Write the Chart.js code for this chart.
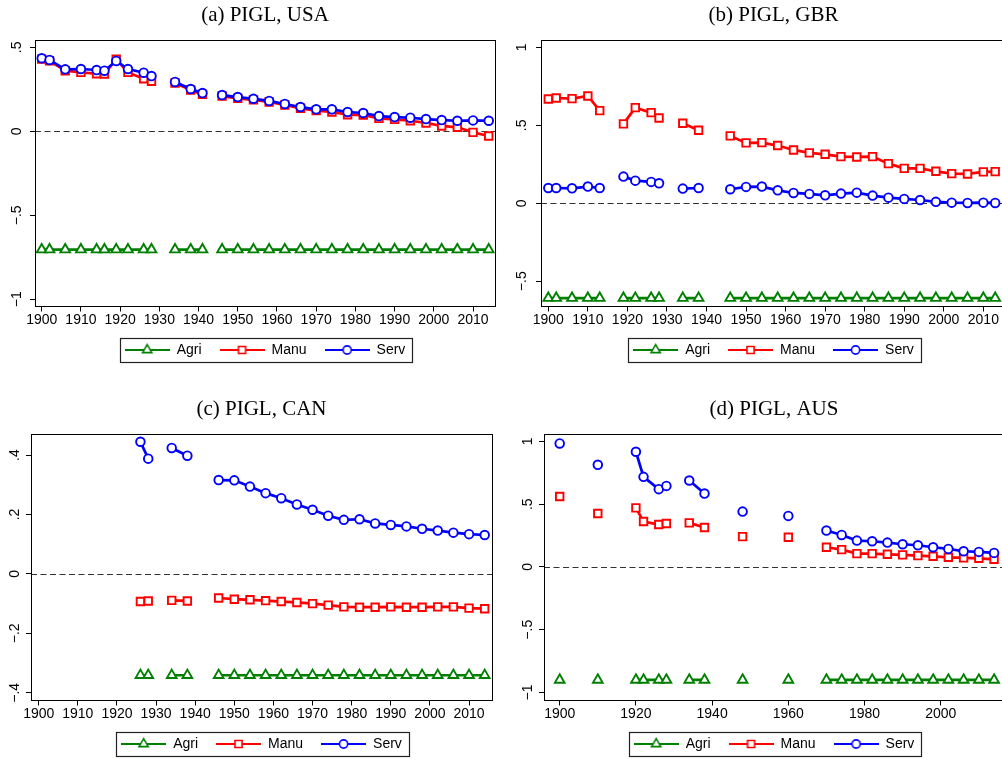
<!DOCTYPE html>
<html>
<head>
<meta charset="utf-8">
<script src="https://cdn.jsdelivr.net/npm/chart.js@4/dist/chart.umd.min.js"></script>
<style>
html, body { margin: 0; padding: 0; background: #fff; overflow: hidden; width: 1002px; height: 759px; }
canvas { position: absolute; }
</style>
</head>
<body>
<canvas id="usa" width="500" height="367" style="left:0;top:0"></canvas>
<canvas id="gbr" width="510" height="367" style="left:500px;top:0"></canvas>
<canvas id="can" width="500" height="367" style="left:0;top:394px"></canvas>
<canvas id="aus" width="506" height="367" style="left:500px;top:394px"></canvas>
<script>
// values (null = break in the line)
const yearsUSA = [1900, 1902, 1906, 1910, 1914, 1916, 1919, 1922, 1926, 1928, 1931, 1934, 1938, 1941, 1943,
  1946, 1950, 1954, 1958, 1962, 1966, 1970, 1974, 1978, 1982, 1986, 1990, 1994, 1998, 2002, 2006, 2010, 2014];
const agriUSA = [-0.704, -0.704, -0.704, -0.704, -0.704, -0.704, -0.704, -0.704, -0.704, -0.704, null, -0.704, -0.704, -0.704, null,
  -0.704, -0.704, -0.704, -0.704, -0.704, -0.704, -0.704, -0.704, -0.704, -0.704, -0.704, -0.704, -0.704, -0.704, -0.704, -0.704, -0.704, -0.704];
const manuUSA = [0.43, 0.42, 0.361, 0.351, 0.343, 0.341, 0.429, 0.351, 0.313, 0.298, null, 0.288, 0.246, 0.22, null,
  0.21, 0.196, 0.187, 0.175, 0.157, 0.137, 0.123, 0.115, 0.099, 0.097, 0.077, 0.071, 0.063, 0.05, 0.032, 0.024, -0.006, -0.028];
const servUSA = [0.435, 0.425, 0.369, 0.371, 0.365, 0.361, 0.419, 0.371, 0.349, 0.329, null, 0.294, 0.252, 0.228, null,
  0.216, 0.204, 0.194, 0.181, 0.163, 0.145, 0.131, 0.131, 0.115, 0.109, 0.091, 0.085, 0.081, 0.073, 0.067, 0.063, 0.065, 0.063];

const yearsGBR = [1900, 1902, 1906, 1910, 1913, 1916, 1919, 1922, 1926, 1928, 1931, 1934, 1938, 1942,
  1946, 1950, 1954, 1958, 1962, 1966, 1970, 1974, 1978, 1982, 1986, 1990, 1994, 1998, 2002, 2006, 2010, 2013];
const agriGBR = [-0.608, -0.608, -0.608, -0.608, -0.608, null, -0.608, -0.608, -0.608, -0.608, null, -0.608, -0.608, null,
  -0.608, -0.608, -0.608, -0.608, -0.608, -0.608, -0.608, -0.608, -0.608, -0.608, -0.608, -0.608, -0.608, -0.608, -0.608, -0.608, -0.608, -0.608];
const manuGBR = [0.669, 0.675, 0.671, 0.688, 0.594, null, 0.509, 0.613, 0.581, 0.547, null, 0.513, 0.468, null,
  0.432, 0.387, 0.389, 0.37, 0.342, 0.323, 0.314, 0.299, 0.297, 0.299, 0.254, 0.224, 0.224, 0.205, 0.19, 0.188, 0.201, 0.203];
const servGBR = [0.098, 0.098, 0.096, 0.107, 0.098, null, 0.171, 0.145, 0.137, 0.128, null, 0.094, 0.098, null,
  0.09, 0.105, 0.107, 0.083, 0.066, 0.06, 0.051, 0.062, 0.068, 0.049, 0.036, 0.028, 0.021, 0.009, 0.004, 0.002, 0.004, 0.002];

const yearsCAN = [1926, 1928, 1931, 1934, 1938, 1942,
  1946, 1950, 1954, 1958, 1962, 1966, 1970, 1974, 1978, 1982, 1986, 1990, 1994, 1998, 2002, 2006, 2010, 2014];
const agriCAN = [-0.341, -0.341, null, -0.341, -0.341, null,
  -0.341, -0.341, -0.341, -0.341, -0.341, -0.341, -0.341, -0.341, -0.341, -0.341, -0.341, -0.341, -0.341, -0.341, -0.341, -0.341, -0.341, -0.341];
const manuCAN = [-0.093, -0.091, null, -0.089, -0.091, null,
  -0.081, -0.085, -0.087, -0.09, -0.093, -0.096, -0.1, -0.105, -0.111, -0.112, -0.112, -0.111, -0.112, -0.112, -0.111, -0.111, -0.115, -0.117];
const servCAN = [0.445, 0.388, null, 0.424, 0.398, null,
  0.316, 0.315, 0.294, 0.272, 0.255, 0.234, 0.216, 0.196, 0.182, 0.184, 0.17, 0.165, 0.16, 0.152, 0.146, 0.139, 0.134, 0.131];

const yearsAUS = [1900, 1905, 1910, 1915, 1920, 1922, 1926, 1928, 1931, 1934, 1938, 1943, 1948, 1954, 1960, 1965,
  1970, 1974, 1978, 1982, 1986, 1990, 1994, 1998, 2002, 2006, 2010, 2014];
const agriAUS = [-0.9, null, -0.9, null, -0.9, -0.9, -0.9, -0.9, null, -0.9, -0.9, null, -0.9, null, -0.9, null,
  -0.9, -0.9, -0.9, -0.9, -0.9, -0.9, -0.9, -0.9, -0.9, -0.9, -0.9, -0.9];
const manuAUS = [0.561, null, 0.426, null, 0.471, 0.362, 0.338, 0.346, null, 0.351, 0.314, null, 0.242, null, 0.237, null,
  0.157, 0.138, 0.106, 0.106, 0.101, 0.096, 0.09, 0.085, 0.077, 0.072, 0.069, 0.061];
const servAUS = [0.984, null, 0.814, null, 0.918, 0.718, 0.62, 0.646, null, 0.689, 0.585, null, 0.441, null, 0.407, null,
  0.29, 0.255, 0.21, 0.205, 0.194, 0.181, 0.173, 0.157, 0.144, 0.125, 0.12, 0.112];

const xTicks10 = [1900, 1910, 1920, 1930, 1940, 1950, 1960, 1970, 1980, 1990, 2000, 2010];
const xTicks20 = [1900, 1920, 1940, 1960, 1980, 2000];
const yTicksUSA = [-1, -0.5, 0, 0.5];
const yTicksGBR = [-0.5, 0, 0.5, 1];
const yTicksCAN = [-0.4, -0.2, 0, 0.2, 0.4];
const yTicksAUS = [-1, -0.5, 0, 0.5, 1];

const GREEN = '#008000', RED = '#ff0000', BLUE = '#0000ff';
const SANS = "'Liberation Sans', Arial, sans-serif";

// stata style numbers: no leading zero, real minus sign
function stataNum(v) {
  if (v === 0) return '0';
  return (v < 0 ? '\u2212' : '') + String(Math.abs(v)).replace(/^0\./, '.');
}

const markers = {
  Agri: { color: GREEN, style: 'triangle', r: 5.6 },
  Manu: { color: RED, style: 'rect', r: 5.3 },
  Serv: { color: BLUE, style: 'circle', r: 4.3 }
};

// legend key: a short line with the marker sitting in the middle
function legendIcon(m) {
  const c = document.createElement('canvas');
  c.width = 45; c.height = 16;
  const ctx = c.getContext('2d');
  ctx.strokeStyle = m.color;
  ctx.lineWidth = 2.2;
  ctx.beginPath(); ctx.moveTo(0, 8); ctx.lineTo(45, 8); ctx.stroke();
  ctx.fillStyle = '#fff';
  ctx.lineWidth = 1.6;
  Chart.helpers.drawPoint(ctx, { pointStyle: m.style, radius: m.r * 0.95, rotation: 0, borderWidth: 1.6 }, 22.5, 8);
  return c;
}
const icons = {};
for (const k in markers) icons[k] = legendIcon(markers[k]);

const stataFrame = {
  id: 'stataFrame',
  beforeDatasetsDraw(chart) {
    const { ctx, chartArea: a, scales } = chart;
    const y0 = Math.round(scales.y.getPixelForValue(0)) + 0.5;
    ctx.save();
    ctx.strokeStyle = '#333';
    ctx.lineWidth = 1;
    ctx.setLineDash([6, 3.5]);
    ctx.beginPath(); ctx.moveTo(a.left, y0); ctx.lineTo(a.right, y0); ctx.stroke();
    ctx.setLineDash([]);
    ctx.strokeStyle = '#000';
    ctx.strokeRect(Math.round(a.left) + 0.5, Math.round(a.top) + 0.5, Math.round(a.right - a.left), Math.round(a.bottom - a.top));
    ctx.restore();
  },
  afterDraw(chart) {
    const hb = chart.legend.legendHitBoxes;
    if (!hb || !hb.length) return;
    const first = hb[0], last = hb[hb.length - 1];
    const x0 = Math.round(first.left - 5) + 0.5;
    const x1 = Math.round(last.left + last.width + 7) + 0.5;
    const y0 = Math.round(first.top - 5.2) + 0.5;
    const ctx = chart.ctx;
    ctx.save();
    ctx.strokeStyle = '#222';
    ctx.lineWidth = 1.2;
    ctx.strokeRect(x0, y0, x1 - x0, 24);
    ctx.restore();
  }
};

function series(label, years, vals, order) {
  const m = markers[label];
  return {
    label: label,
    data: years.map((x, i) => ({ x: x, y: vals[i] })),
    order: order,
    borderColor: m.color,
    backgroundColor: '#fff',
    borderWidth: 2.7,
    pointStyle: m.style,
    pointRadius: m.r,
    pointHoverRadius: m.r,
    pointBorderWidth: 1.9,
    pointBackgroundColor: '#fff',
    pointBorderColor: m.color,
    spanGaps: false,
    tension: 0
  };
}

function pigl(id, title, years, agri, manu, serv, p) {
  return new Chart(document.getElementById(id), {
    type: 'line',
    data: {
      datasets: [
        series('Agri', years, agri, 3),
        series('Manu', years, manu, 2),
        series('Serv', years, serv, 1)
      ]
    },
    options: {
      responsive: false,
      animation: false,
      events: [],
      layout: { autoPadding: false, padding: { left: 0, right: p.padRight, top: 0, bottom: 0 } },
      scales: {
        x: {
          type: 'linear',
          min: p.xMin, max: p.xMax,
          afterBuildTicks: s => { s.ticks = p.xTicks.map(v => ({ value: v })); },
          afterFit: s => { s.height = 18.5; },
          grid: { display: true, drawOnChartArea: false, drawTicks: true, tickLength: 5, color: '#000' },
          border: { display: false },
          ticks: { autoSkip: false, maxRotation: 0, padding: 0, color: '#000', font: { family: SANS, size: 14 },
            callback: v => String(v) }
        },
        y: {
          type: 'linear',
          min: p.yMin, max: p.yMax,
          afterBuildTicks: s => { s.ticks = p.yTicks.map(v => ({ value: v })); },
          afterFit: s => { s.width = p.axisW; },
          grid: { display: true, drawOnChartArea: false, drawTicks: true, tickLength: 5, color: '#000' },
          border: { display: false },
          ticks: { minRotation: 90, maxRotation: 90, crossAlign: 'center', padding: p.labelPad, color: '#000',
            font: { family: SANS, size: 14 }, callback: v => stataNum(v) }
        }
      },
      plugins: {
        tooltip: { enabled: false },
        title: {
          display: true, text: title, fullSize: false, color: '#000',
          font: { family: "'Liberation Serif', 'Times New Roman', serif", size: 21, weight: 'normal' },
          padding: { top: 2.4, bottom: 12.7 }
        },
        legend: {
          position: 'bottom', fullSize: false,
          labels: {
            usePointStyle: true, pointStyleWidth: 45, padding: 18, color: '#000',
            font: { family: SANS, size: 14 },
            generateLabels: chart => chart.data.datasets.map((ds, i) => ({
              text: ds.label, pointStyle: icons[ds.label], datasetIndex: i, hidden: false,
              fontColor: '#000', lineWidth: 0, strokeStyle: 'rgba(0,0,0,0)', fillStyle: 'rgba(0,0,0,0)'
            }))
          }
        }
      }
    },
    plugins: [stataFrame]
  });
}

pigl('usa', '(a) PIGL, USA', yearsUSA, agriUSA, manuUSA, servUSA,
  { padRight: 5, axisW: 35, labelPad: 2.5, xMin: 1898.29, xMax: 2015.6, xTicks: xTicks10, yMin: -1.043, yMax: 0.542, yTicks: yTicksUSA });
pigl('gbr', '(b) PIGL, GBR', yearsGBR, agriGBR, manuGBR, servGBR,
  { padRight: 4, axisW: 41, labelPad: 4, xMin: 1898.15, xMax: 2015.73, xTicks: xTicks10, yMin: -0.662, yMax: 1.045, yTicks: yTicksGBR });
pigl('can', '(c) PIGL, CAN', yearsCAN, agriCAN, manuCAN, servCAN,
  { padRight: 8, axisW: 31, labelPad: 1, xMin: 1898.03, xMax: 2015.87, xTicks: xTicks10, yMin: -0.426, yMax: 0.47, yTicks: yTicksCAN });
pigl('aus', '(d) PIGL, AUS', yearsAUS, agriAUS, manuAUS, servAUS,
  { padRight: 2, axisW: 44, labelPad: 1, xMin: 1895.88, xMax: 2016.6, xTicks: xTicks20, yMin: -1.064, yMax: 1.057, yTicks: yTicksAUS });
</script>
</body>
</html>
